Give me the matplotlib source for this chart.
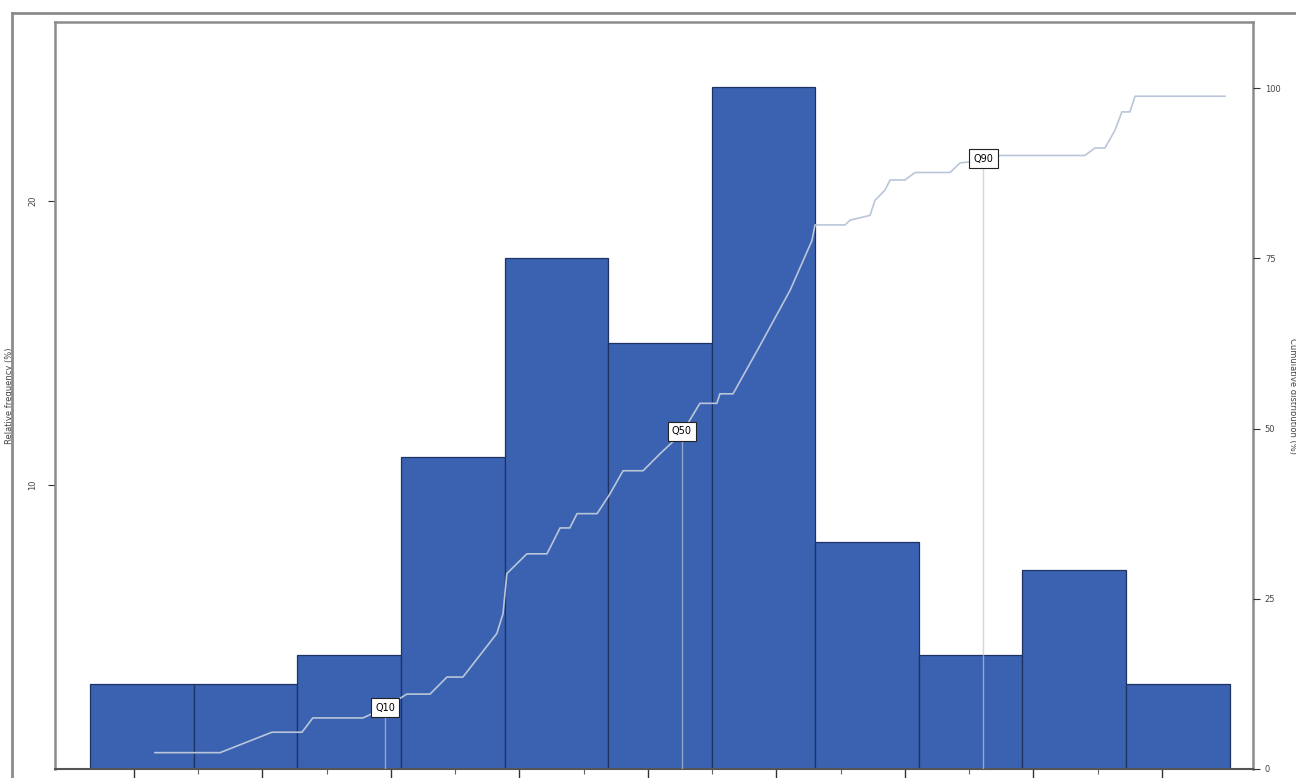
"""
plot.py - histogram with cumulative distribution overlay
"""

import numpy as np
import matplotlib.pyplot as plt
from matplotlib.lines import Line2D

# Histogram bins (relative frequency, %)
bin_start = -1.7
bin_width = 4.03
rel_freq = [3, 3, 4, 11, 18, 15, 24, 8, 4, 7, 3]

# Cumulative distribution curve
cdf_x = [0.82, 3.35, 5.37, 6.54, 6.96, 8.91, 9.77, 10.62, 11.52, 12.18, 12.80,
         14.12, 14.36, 14.51, 15.29, 16.07, 16.58, 16.96, 17.24, 18.02, 18.52,
         19.03, 19.81, 20.47, 21.32, 22.02, 22.68, 22.80, 23.31, 24.36, 25.53,
         26.38, 26.50, 27.67, 27.86, 28.64, 28.83, 29.22, 29.42, 30.00, 30.39,
         31.75, 32.14, 33.11, 33.70, 37.00, 37.39, 37.78, 38.17, 38.44, 38.75,
         38.95, 42.45]
cdf_y = [2.4, 2.4, 5.4, 5.4, 7.5, 7.5, 9.0, 11.0, 11.0, 13.5, 13.5,
         19.9, 22.8, 28.7, 31.6, 31.6, 35.4, 35.4, 37.5, 37.5, 40.4,
         43.8, 43.8, 46.3, 49.3, 53.7, 53.7, 55.1, 55.1, 62.2, 70.3,
         77.6, 79.9, 79.9, 80.6, 81.3, 83.5, 85.0, 86.5, 86.5, 87.6,
         87.6, 89.0, 89.4, 90.1, 90.1, 91.2, 91.2, 93.8, 96.5, 96.5,
         98.8, 98.8]

# Quantile markers
q_labels = ["Q10", "Q50", "Q90"]
q_x = [9.77, 21.32, 33.05]
q_y = [9.0, 49.6, 89.6]

left_ticks = [10, 20]
right_ticks = [0, 25, 50, 75, 100]

W, H = 1296, 778
fig = plt.figure(figsize=(W / 100, H / 100), dpi=100)

# outer frame
frame_col = "#8c8c8c"
fig.add_artist(Line2D([12 / W, 12 / W], [0, 1 - 13 / H], color=frame_col, lw=2))
fig.add_artist(Line2D([12 / W, 1], [1 - 13 / H, 1 - 13 / H], color=frame_col, lw=2))

ax = fig.add_axes([55 / W, 9 / H, (1253 - 55) / W, (769 - 22) / H])
edges = bin_start + bin_width * np.arange(len(rel_freq))
ax.bar(edges, rel_freq, width=bin_width, align="edge",
       color="#3a62b0", edgecolor="#1e3263", linewidth=0.9, zorder=2)
ax.set_xlim(-3.07, 43.54)
ax.set_ylim(0, 26.3)
ax.set_yticks(left_ticks)
ax.set_yticklabels([str(t) for t in left_ticks], rotation=90, va="center",
                   fontsize=6, color="#444444")
ax.set_xticks(np.arange(0, 41, 5))
ax.set_xticks(np.arange(2.5, 41, 5), minor=True)
ax.tick_params(axis="x", which="major", length=7, labelbottom=False,
               color="#333333", width=1)
ax.tick_params(axis="x", which="minor", length=3.5, color="#666666", width=0.8)
ax.tick_params(axis="y", length=5, color="#333333", pad=8)
ax.set_ylabel("Relative frequency (%)", fontsize=6, color="#444444", labelpad=10)
for s in ["left", "top", "right"]:
    ax.spines[s].set_color(frame_col)
    ax.spines[s].set_linewidth(1.8)
ax.spines["bottom"].set_color("#555555")
ax.spines["bottom"].set_linewidth(1.5)

ax2 = ax.twinx()
ax2.set_ylim(0, 109.7)
ax2.set_yticks(right_ticks)
ax2.set_yticklabels([str(t) for t in right_ticks], fontsize=6, color="#444444")
ax2.tick_params(axis="y", length=5, color="#333333")
ax2.set_ylabel("Cumulative distribution (%)", fontsize=6, color="#444444",
               rotation=270, labelpad=12)
for s in ax2.spines.values():
    s.set_visible(False)

line_col = "#b9c6da"
ax2.plot(cdf_x, cdf_y, color=line_col, lw=1.2, zorder=3)
for lab, x, y in zip(q_labels, q_x, q_y):
    ax2.plot([x, x], [0, y], color=line_col, lw=1, alpha=0.7, zorder=3)
    ax2.text(x, y, lab, fontsize=7, ha="center", va="center", zorder=5,
             bbox=dict(boxstyle="square,pad=0.45", fc="white", ec="#222222", lw=0.8))

fig.savefig("out.png", dpi=100)
